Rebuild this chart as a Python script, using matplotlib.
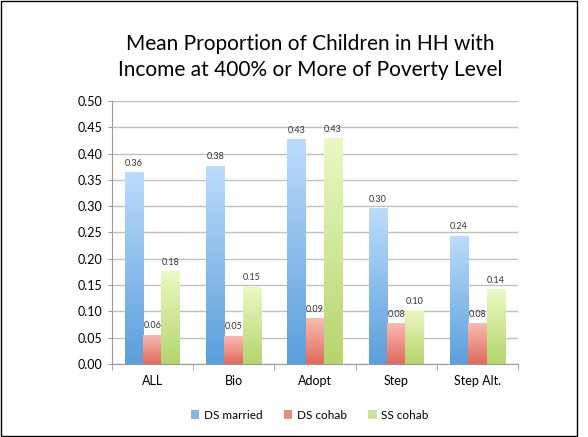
import matplotlib.pyplot as plt
import numpy as np
from matplotlib.patches import Rectangle, Patch

plt.rcParams['font.family'] = ['Lato', 'DejaVu Sans']

categories = ['ALL', 'Bio', 'Adopt', 'Step', 'Step Alt.']
ds_married = [0.365, 0.377, 0.427, 0.297, 0.244]
ds_cohab = [0.056, 0.054, 0.088, 0.078, 0.078]
ss_cohab = [0.176, 0.147, 0.430, 0.103, 0.142]
series_names = ['DS married', 'DS cohab', 'SS cohab']

# top colour, bottom colour of the gradient
grads = [('#bcdcfc', '#5b9fdb'), ('#fbbcb5', '#e06b5c'), ('#eaf9c4', '#b5d56c')]
legend_cols = ['#7fb5e8', '#ec8a7e', '#cde59a']

fig = plt.figure(figsize=(5.88, 4.37), dpi=100)
ax = fig.add_axes([0.19, 0.167, 0.691, 0.602])

x = np.arange(len(categories))
w = 0.225
offsets = [-w, 0, w]

def hex2rgb(h):
    h = h.lstrip('#')
    return np.array([int(h[i:i + 2], 16) / 255 for i in (0, 2, 4)])

for vals, off, (top, bot) in zip([ds_married, ds_cohab, ss_cohab], offsets, grads):
    t = hex2rgb(top)
    b = hex2rgb(bot)
    for xi, v in zip(x, vals):
        x0 = xi + off - w / 2
        frac = np.linspace(1, 0, 100)[:, None]
        img = (t * frac + b * (1 - frac))[:, None, :]
        im = ax.imshow(img, extent=[x0, x0 + w, 0, v], aspect='auto', zorder=2)
        r = Rectangle((x0, 0), w, v, facecolor='none', edgecolor='none')
        ax.add_patch(r)
        im.set_clip_path(r)
        ax.text(xi + off, v + 0.008, f'{v:.2f}', ha='center', va='bottom', fontsize=6.5, color='#333333', zorder=3)

ax.set_xlim(-0.5, len(categories) - 0.5)
ax.set_ylim(0, 0.5)
ax.set_yticks(np.arange(0, 0.501, 0.05))
ax.set_yticklabels([f'{v:.2f}' for v in np.arange(0, 0.501, 0.05)], fontsize=9)
ax.set_xticks(x)
ax.set_xticklabels(categories, fontsize=9)
ax.tick_params(axis='x', length=0, pad=8)
ax.set_xticks(np.arange(-0.5, len(categories)), minor=True)
ax.tick_params(axis='x', which='minor', length=4, color='#999999')
ax.tick_params(axis='y', length=3, color='#999999')
ax.grid(axis='y', color='#c0c0c0', linewidth=1, zorder=0)
ax.set_axisbelow(True)
for s in ['top', 'right']:
    ax.spines[s].set_visible(False)
for s in ['left', 'bottom']:
    ax.spines[s].set_color('#999999')

fig.text(0.527, 0.87, 'Mean Proportion of Children in HH with\nIncome at 400% or More of Poverty Level',
         ha='center', va='center', fontsize=15, linespacing=1.4)

handles = [Patch(facecolor=c, edgecolor='none', label=n) for c, n in zip(legend_cols, series_names)]
fig.legend(handles=handles, loc='center', bbox_to_anchor=(0.527, 0.05), ncol=3, frameon=False, fontsize=8.5,
           handlelength=0.7, handleheight=0.7, handletextpad=0.4, columnspacing=1.8)

fig.patches.append(Rectangle((0.002, 0.002), 0.98, 0.995, transform=fig.transFigure,
                             fill=False, edgecolor='black', linewidth=1))

plt.savefig('out.png', dpi=100)
